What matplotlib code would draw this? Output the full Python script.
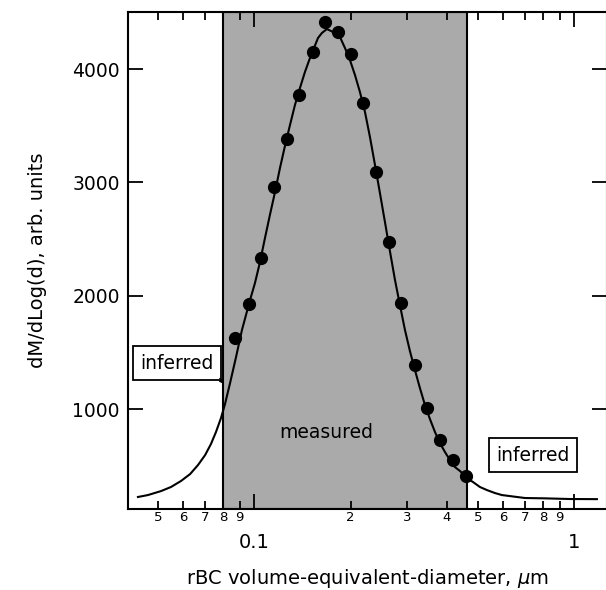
import math
import matplotlib
matplotlib.use("Agg")
import matplotlib.pyplot as plt
from matplotlib.ticker import LogLocator, FuncFormatter, FixedLocator

# measured size distribution (dots)
meas_d = [0.0872, 0.0965, 0.1052, 0.1155, 0.1268, 0.1382, 0.1529, 0.1667, 0.1831,
          0.2010, 0.2192, 0.2405, 0.2641, 0.2879, 0.3184, 0.3472, 0.3814, 0.4185, 0.4597]
meas_m = [1626, 1926, 2332, 2959, 3382, 3771, 4150, 4415, 4326,
          4132, 3700, 3091, 2474, 1935, 1388, 1009, 726, 550, 409]

# fitted curve
fit_d = [0.0433, 0.0465, 0.0511, 0.0549, 0.0590, 0.0630, 0.0667, 0.0702, 0.0732,
         0.0759, 0.0787, 0.0810, 0.0840, 0.0877, 0.0915, 0.0970, 0.1005, 0.1042,
         0.1080, 0.1119, 0.1161, 0.1203, 0.1247, 0.1293, 0.1340, 0.1389, 0.1440,
         0.1493, 0.1582, 0.1627, 0.1687, 0.1787, 0.1853, 0.1921, 0.1991, 0.2064,
         0.2139, 0.2218, 0.2299, 0.2384, 0.2470, 0.2561, 0.2654, 0.2753, 0.2852,
         0.2958, 0.3065, 0.3178, 0.3294, 0.3416, 0.3540, 0.3671, 0.3804, 0.3944,
         0.4088, 0.4238, 0.4396, 0.4623, 0.4826, 0.5074, 0.5336, 0.5649, 0.5943,
         0.6294, 0.6622, 0.7014, 0.8099, 0.9696, 1.1774]
fit_m = [224, 241, 276, 312, 365, 426, 506, 594, 691,
         797, 921, 1044, 1229, 1459, 1697, 1962, 2112, 2297,
         2509, 2712, 2915, 3126, 3321, 3506, 3682, 3832, 3974,
         4097, 4274, 4318, 4353, 4318, 4282, 4185, 4079, 3947,
         3797, 3621, 3400, 3153, 2906, 2650, 2394, 2138, 1918,
         1697, 1512, 1344, 1185, 1035, 912, 797, 700, 621,
         550, 488, 453, 391, 356, 312, 285, 259, 241,
         232, 224, 215, 212, 206, 205]

meas_range = (0.0798, 0.462)

fig = plt.figure(figsize=(6.06, 5.90), dpi=100)
ax = fig.add_axes([128 / 606, 81 / 590, 479 / 606, 497 / 590])

ax.axvspan(meas_range[0], meas_range[1], facecolor='#aaaaaa',
           edgecolor='black', linewidth=1.5, zorder=0)
ax.plot(fit_d, fit_m, color='black', linewidth=1.5, zorder=2,
        solid_joinstyle='round')
ax.plot(meas_d, meas_m, 'o', color='black', markersize=8.5, zorder=3)

ax.set_xscale('log')
ax.set_xlim(0.0403, 1.266)
ax.set_ylim(118, 4503)

ax.xaxis.set_major_locator(FixedLocator([0.1, 1]))
ax.xaxis.set_major_formatter(FuncFormatter(lambda v, p: '%g' % v))
ax.xaxis.set_minor_locator(LogLocator(base=10, subs=range(2, 10)))
ax.xaxis.set_minor_formatter(FuncFormatter(
    lambda v, p: str(int(round(v / 10 ** math.floor(math.log10(v) + 1e-9))))))
ax.set_yticks([1000, 2000, 3000, 4000])

ax.tick_params(which='both', direction='in', top=True, right=True, width=1.3)
ax.tick_params(which='major', length=11)
ax.tick_params(which='minor', length=5.5)
ax.tick_params(axis='x', which='major', labelsize=14, pad=17)
ax.tick_params(axis='x', which='minor', labelsize=9.5, pad=1.5)
ax.tick_params(axis='y', labelsize=13.5, pad=6)
for s in ax.spines.values():
    s.set_linewidth(1.5)

ax.set_xlabel(r'rBC volume-equivalent-diameter, $\mu$m', fontsize=14, labelpad=11)
ax.set_ylabel('dM/dLog(d), arb. units', fontsize=14, labelpad=18)

box = dict(boxstyle='square,pad=0.4', facecolor='white', edgecolor='black', linewidth=1.3)
ax.text(0.0573, 1406, 'inferred', fontsize=13.5, ha='center', va='center', bbox=box, zorder=4)
ax.text(0.743, 594, 'inferred', fontsize=13.5, ha='center', va='center', bbox=box, zorder=4)
ax.text(0.1675, 797, 'measured', fontsize=13.5, ha='center', va='center', zorder=4)
ax.annotate('', xy=(0.0815, 1200), xytext=(0.0770, 1290),
            arrowprops=dict(arrowstyle='-|>', color='black', lw=0.8,
                            mutation_scale=7), zorder=4)

fig.savefig('out.png', dpi=100)
